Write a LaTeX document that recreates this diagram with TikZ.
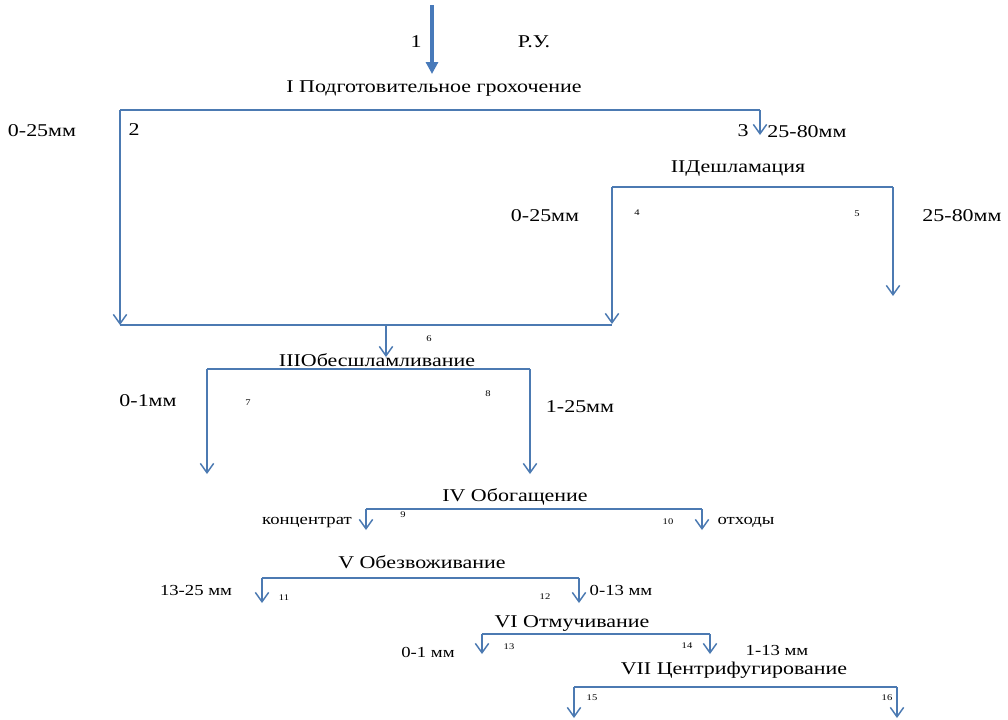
\documentclass[tikz,border=0pt]{standalone}
\usepackage{fontspec}
\setmainfont{Liberation Serif}[FakeStretch=1.22]
\usetikzlibrary{arrows.meta}
\definecolor{lineblue}{RGB}{76,122,178}
\definecolor{feedblue}{RGB}{72,122,186}
\tikzset{
  bus/.style={draw=lineblue, line width=2.2pt},
  thinbus/.style={draw=lineblue, line width=1.2pt},
  flow/.style={draw=lineblue, line width=1.1pt, -{Straight Barb[length=7pt,width=10pt,line width=1.1pt]}},
  feed/.style={draw=feedblue, line width=2.6pt, -{Triangle[length=9pt,width=9pt]}},
  big/.style={font=\fontsize{13.5}{15}\selectfont, inner sep=0pt},
  mid/.style={font=\fontsize{11.5}{13}\selectfont, inner sep=0pt},
  tiny/.style={font=\fontsize{6.5}{7}\selectfont, inner sep=0pt},
}
\begin{document}
\begin{tikzpicture}[x=0.75pt,y=-0.75pt]
\useasboundingbox (0,0) rectangle (1008,719);
% feed
\coordinate (in1) at (432,5);
\coordinate (s1) at (432,74);
\draw[feed] (in1) -- (s1);
\node[big] (n1) at (416,42) {1};
\node[big] (ru) at (534,42) {Р.У.};
% stage I
\node[big] (t1) at (434,89) {I Подготовительное грохочение};
\coordinate (b1L) at (120,110);
\coordinate (b1R) at (760,110);
\coordinate (b1Le) at (120,325);
\coordinate (b1Re) at (760,135);
\draw[bus] (b1L) -- (b1R);
\draw[flow] (b1L) -- (b1Le);
\draw[flow] (b1R) -- (b1Re);
\node[big] (r01) at (42,131) {0-25мм};
\node[big] (n2) at (134,130) {2};
\node[big] (n3) at (743,131) {3};
\node[big] (r02) at (807,132) {25-80мм};
% stage II
\node[big] (t2) at (738,169) {IIДешламация};
\coordinate (b2L) at (612,187);
\coordinate (b2R) at (893,187);
\coordinate (b2Le) at (612,324);
\coordinate (b2Re) at (893,296);
\draw[bus] (b2L) -- (b2R);
\draw[flow] (b2L) -- (b2Le);
\draw[flow] (b2R) -- (b2Re);
\node[big] (r03) at (545,216) {0-25мм};
\node[tiny] (n4) at (637,213) {4};
\node[tiny] (n5) at (857,214) {5};
\node[big] (r04) at (962,216) {25-80мм};
% merge
\coordinate (mL) at (120,325);
\coordinate (mR) at (612,325);
\coordinate (mC) at (386,325);
\coordinate (mCe) at (386,357);
\draw[thinbus] (mL) -- (mR);
\draw[flow] (mC) -- (mCe);
\node[tiny] (n6) at (429,339) {6};
% stage III
\node[big] (t3) at (377,360) {IIIОбесшламливание};
\coordinate (b3L) at (207,369);
\coordinate (b3R) at (530,369);
\coordinate (b3Le) at (207,474);
\coordinate (b3Re) at (530,474);
\draw[bus] (b3L) -- (b3R);
\draw[flow] (b3L) -- (b3Le);
\draw[flow] (b3R) -- (b3Re);
\node[big] (r05) at (148,401) {0-1мм};
\node[tiny] (n7) at (248,403) {7};
\node[tiny] (n8) at (488,394) {8};
\node[big] (r06) at (580,407) {1-25мм};
% stage IV
\node[big] (t4) at (515,497) {IV Обогащение};
\coordinate (b4L) at (366,509);
\coordinate (b4R) at (702,509);
\coordinate (b4Le) at (366,530);
\coordinate (b4Re) at (702,530);
\draw[thinbus] (b4L) -- (b4R);
\draw[flow] (b4L) -- (b4Le);
\draw[flow] (b4R) -- (b4Re);
\node[mid] (conc) at (307,523) {концентрат};
\node[tiny] (n9) at (403,515) {9};
\node[tiny] (n10) at (668,522) {10};
\node[mid] (waste) at (746,522) {отходы};
% stage V
\node[big] (t5) at (422,562) {V Обезвоживание};
\coordinate (b5L) at (262,578);
\coordinate (b5R) at (579,578);
\coordinate (b5Le) at (262,603);
\coordinate (b5Re) at (579,603);
\draw[thinbus] (b5L) -- (b5R);
\draw[flow] (b5L) -- (b5Le);
\draw[flow] (b5R) -- (b5Re);
\node[mid] (r07) at (196,590) {13-25 мм};
\node[tiny] (n11) at (284,598) {11};
\node[tiny] (n12) at (545,597) {12};
\node[mid] (r08) at (621,590) {0-13 мм};
% stage VI
\node[big] (t6) at (572,623) {VI Отмучивание};
\coordinate (b6L) at (482,634);
\coordinate (b6R) at (710,634);
\coordinate (b6Le) at (482,654);
\coordinate (b6Re) at (710,654);
\draw[thinbus] (b6L) -- (b6R);
\draw[flow] (b6L) -- (b6Le);
\draw[flow] (b6R) -- (b6Re);
\node[mid] (r09) at (428,652) {0-1 мм};
\node[tiny] (n13) at (509,647) {13};
\node[tiny] (n14) at (687,646) {14};
\node[mid] (r10) at (777,650) {1-13 мм};
% stage VII
\node[big] (t7) at (734,670) {VII Центрифугирование};
\coordinate (b7L) at (574,687);
\coordinate (b7R) at (897,687);
\coordinate (b7Le) at (574,718);
\coordinate (b7Re) at (897,718);
\draw[thinbus] (b7L) -- (b7R);
\draw[flow] (b7L) -- (b7Le);
\draw[flow] (b7R) -- (b7Re);
\node[tiny] (n15) at (592,698) {15};
\node[tiny] (n16) at (887,698) {16};
\end{tikzpicture}
\end{document}
